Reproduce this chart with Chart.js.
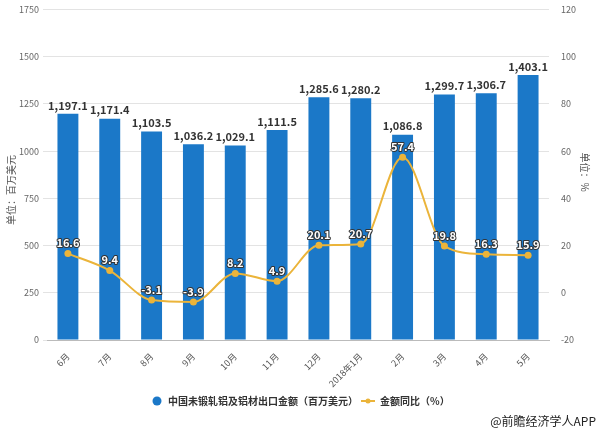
<!DOCTYPE html>
<html>
<head>
<meta charset="utf-8">
<script src="https://cdn.jsdelivr.net/npm/chart.js@4/dist/chart.umd.min.js"></script>
<style>
  html, body { margin: 0; padding: 0; background: #fff; }
  #wrap { width: 600px; height: 432px; }
</style>
</head>
<body>
<div id="wrap"><canvas id="chart" width="600" height="432"></canvas></div>
<script>
// data
const months = ['6月', '7月', '8月', '9月', '10月', '11月', '12月', '2018年1月', '2月', '3月', '4月', '5月'];
const exportValue = [1197.1, 1171.4, 1103.5, 1036.2, 1029.1, 1111.5, 1285.6, 1280.2, 1086.8, 1299.7, 1306.7, 1403.1];
const yoyGrowth = [16.6, 9.4, -3.1, -3.9, 8.2, 4.9, 20.1, 20.7, 57.4, 19.8, 16.3, 15.9];

const FONT = "'Noto Sans CJK SC', 'DejaVu Sans', sans-serif";
const BLUE = '#1b78c8';
const GOLD = '#ebb43a';

// draws value labels, axis titles, legend and credit
const extras = {
    id: 'extras',
    afterDatasetsDraw(chart) {
        const ctx = chart.ctx;
        ctx.save();
        ctx.textAlign = 'center';
        ctx.textBaseline = 'bottom';
        ctx.font = 'bold 11px ' + FONT;
        ctx.fillStyle = '#333';
        // dataset 1 = bars, dataset 0 = line
        chart.getDatasetMeta(1).data.forEach((bar, i) => {
            ctx.fillText(exportValue[i].toLocaleString('en-US', { minimumFractionDigits: 1 }), bar.x, bar.y - 3);
        });
        // line labels: white text, dark outline
        ctx.lineJoin = 'round';
        ctx.lineWidth = 2;
        ctx.strokeStyle = '#333';
        ctx.fillStyle = '#fff';
        chart.getDatasetMeta(0).data.forEach((pt, i) => {
            const txt = yoyGrowth[i].toFixed(1);
            ctx.strokeText(txt, pt.x, pt.y - 5);
            ctx.fillText(txt, pt.x, pt.y - 5);
        });
        ctx.restore();
    },
    afterDraw(chart) {
        const ctx = chart.ctx;
        ctx.save();
        ctx.fillStyle = '#555';
        ctx.font = '10px ' + FONT;
        ctx.textAlign = 'center';
        ctx.textBaseline = 'middle';
        // left title
        ctx.save();
        ctx.translate(11, 190);
        ctx.rotate(-Math.PI / 2);
        ctx.fillText('单位：百万美元', 0, 0);
        ctx.restore();
        // right title
        ctx.save();
        ctx.translate(585, 172);
        ctx.rotate(Math.PI / 2);
        ctx.fillText('单位：%', 0, 0);
        ctx.restore();

        // legend
        ctx.fillStyle = BLUE;
        ctx.beginPath();
        ctx.arc(157, 401, 4.5, 0, Math.PI * 2);
        ctx.fill();
        ctx.fillStyle = '#333';
        ctx.font = 'bold 10px ' + FONT;
        ctx.textAlign = 'left';
        ctx.fillText('中国未锻轧铝及铝材出口金额（百万美元）', 168, 401);
        ctx.strokeStyle = GOLD;
        ctx.lineWidth = 2;
        ctx.beginPath();
        ctx.moveTo(361, 401);
        ctx.lineTo(375, 401);
        ctx.stroke();
        ctx.fillStyle = GOLD;
        ctx.beginPath();
        ctx.arc(368, 401, 2.5, 0, Math.PI * 2);
        ctx.fill();
        ctx.fillStyle = '#333';
        ctx.fillText('金额同比（%）', 380, 401);

        // credit
        ctx.font = '12px ' + FONT;
        ctx.fillStyle = '#222';
        ctx.textAlign = 'right';
        ctx.fillText('@前瞻经济学人APP', 596, 421);
        ctx.restore();
    }
};

new Chart(document.getElementById('chart'), {
    data: {
        labels: months,
        datasets: [
            {
                type: 'line',
                label: '金额同比（%）',
                data: yoyGrowth,
                yAxisID: 'y1',
                borderColor: GOLD,
                backgroundColor: GOLD,
                borderWidth: 2,
                pointRadius: 3.5,
                pointBackgroundColor: GOLD,
                pointBorderWidth: 0,
                cubicInterpolationMode: 'monotone',
                order: 0,
            },
            {
                type: 'bar',
                label: '中国未锻轧铝及铝材出口金额（百万美元）',
                data: exportValue,
                yAxisID: 'y',
                backgroundColor: BLUE,
                categoryPercentage: 1,
                barPercentage: 0.5,
                order: 1,
            },
        ],
    },
    options: {
        responsive: false,
        animation: false,
        layout: { padding: { top: 6, left: 0, right: 0, bottom: 0 } },
        plugins: {
            legend: { display: false },
            tooltip: { enabled: false },
        },
        scales: {
            x: {
                grid: { display: false },
                border: { color: '#bbb' },
                ticks: {
                    color: '#555',
                    font: { size: 9, family: FONT },
                    minRotation: 45,
                    maxRotation: 45,
                    autoSkip: false,
                },
                afterFit: (axis) => { axis.height = 92; },
            },
            y: {
                position: 'left',
                min: 0,
                max: 1750,
                ticks: {
                    stepSize: 250,
                    color: '#666',
                    font: { size: 9, family: FONT },
                    padding: 4,
                    callback: (v) => String(v),
                },
                grid: { color: '#e3e3e3', tickLength: 4 },
                border: { display: false },
                afterFit: (axis) => { axis.width = 47; },
            },
            y1: {
                position: 'right',
                min: -20,
                max: 120,
                ticks: { stepSize: 20, color: '#666', font: { size: 9, family: FONT }, padding: 4 },
                grid: { display: false },
                border: { display: false },
                afterFit: (axis) => { axis.width = 51; },
            },
        },
    },
    plugins: [extras],
});
</script>
</body>
</html>
